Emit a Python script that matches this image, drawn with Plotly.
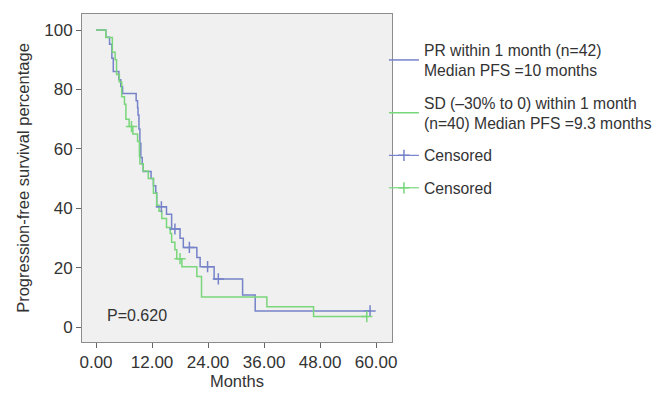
import plotly.graph_objects as go

# ---- data ----
pr_time = [0, 2.1, 2.9, 3.4, 3.7, 4.9, 5.3, 5.7, 8.6, 8.9, 9.0, 9.2, 9.4, 9.6, 9.9, 10.1,
           11.8, 12.3, 12.8, 13.0, 15.1, 16.2, 18.0, 18.7, 21.6, 22.3, 25.3, 31.4, 34.1, 58.7]
pr_surv = [100, 97.6, 95.2, 90.5, 86.0, 83.3, 81.0, 78.6, 76.2, 73.8, 71.4, 66.7, 61.9, 57.1, 54.8, 52.4,
           50.0, 47.6, 45.2, 40.5, 38.0, 33.0, 29.9, 26.8, 23.4, 20.3, 16.2, 10.8, 5.4, 5.4]
pr_cens_time = [14.0, 16.9, 20.0, 23.9, 26.2, 58.7]
pr_cens_surv = [40.5, 33.0, 26.8, 20.3, 16.2, 5.4]

sd_time = [0, 2.1, 3.5, 4.1, 4.4, 5.0, 5.5, 6.1, 6.4, 7.1, 7.9, 8.9, 9.3, 9.4, 10.1, 11.2,
           12.3, 13.0, 13.5, 14.1, 15.1, 15.9, 16.2, 16.9, 17.3, 18.4, 21.6, 22.6, 36.6, 46.6, 58.0]
sd_surv = [100, 97.5, 92.5, 90.0, 85.0, 82.5, 77.5, 75.0, 70.0, 67.5, 65.0, 62.5, 57.5, 55.0, 52.5, 50.0,
           45.0, 41.0, 39.0, 36.5, 33.5, 31.5, 28.5, 26.0, 23.0, 20.3, 17.0, 10.1, 6.8, 3.5, 3.5]
sd_cens_time = [7.6, 18.0, 58.0]
sd_cens_surv = [67.5, 23.0, 3.5]

x_ticks = [0, 12, 24, 36, 48, 60]
x_tick_labels = ["0.00", "12.00", "24.00", "36.00", "48.00", "60.00"]
y_ticks = [0, 20, 40, 60, 80, 100]

names = ["PR within 1 month (n=42)<br>Median PFS =10 months",
         "SD (\u201330% to 0) within 1 month<br>(n=40) Median PFS =9.3 months",
         "Censored", "Censored"]

BLUE = "#7683c9"
GREEN = "#79d67a"
TXT = "#333333"
FONT = "Liberation Sans, Arial, sans-serif"


def gaps(vals):
    out = []
    for v in vals:
        out += [v, None]
    return out


fig = go.Figure()
fig.add_trace(go.Scatter(x=pr_time, y=pr_surv, mode="lines", line=dict(color=BLUE, width=1.5, shape="hv"),
                         name=names[0], legendgroup="a"))
fig.add_trace(go.Scatter(x=sd_time, y=sd_surv, mode="lines", line=dict(color=GREEN, width=1.5, shape="hv"),
                         name=names[1], legendgroup="b"))
fig.add_trace(go.Scatter(x=gaps(pr_cens_time), y=gaps(pr_cens_surv), mode="lines+markers",
                         connectgaps=False, line=dict(color=BLUE, width=1.2),
                         marker=dict(symbol="cross-thin", size=8, line=dict(color=BLUE, width=1.5)),
                         name=names[2], legendgroup="c"))
fig.add_trace(go.Scatter(x=gaps(sd_cens_time), y=gaps(sd_cens_surv), mode="lines+markers",
                         connectgaps=False, line=dict(color=GREEN, width=1.2),
                         marker=dict(symbol="cross-thin", size=8, line=dict(color=GREEN, width=1.5)),
                         name=names[3], legendgroup="d"))

fig.add_annotation(x=1.9, y=4, xref="x", yref="y", text="P=0.620", showarrow=False,
                   xanchor="left", yanchor="middle", font=dict(size=16, color=TXT, family=FONT))

fig.update_layout(
    width=657, height=396,
    margin=dict(l=82, r=265, t=14, b=54, autoexpand=False),
    paper_bgcolor="white", plot_bgcolor="#f0f0f0",
    font=dict(family=FONT, size=16, color=TXT),
    legend=dict(x=0.974, y=0.942, xanchor="left", yanchor="top", bgcolor="rgba(0,0,0,0)",
                font=dict(size=15.7, color=TXT), tracegroupgap=9, itemwidth=30),
    showlegend=True,
)
fig.update_xaxes(range=[-3, 63.4], tickvals=x_ticks, ticktext=x_tick_labels, showgrid=False, zeroline=False,
                 ticks="outside", ticklen=5, tickcolor="#666", showline=True, mirror=True,
                 linecolor="#8c8c8c", linewidth=1, automargin=False, tickfont=dict(size=17),
                 title=dict(text="Months", font=dict(size=16.5, color=TXT), standoff=2))
fig.update_yaxes(range=[-5.05, 105.4], tickvals=y_ticks, showgrid=False, zeroline=False,
                 ticks="outside", ticklen=5, tickcolor="#666", showline=True, mirror=True,
                 linecolor="#8c8c8c", linewidth=1, automargin=False, tickfont=dict(size=17),
                 title=dict(text="Progression-free survival percentage", font=dict(size=16.5, color=TXT),
                            standoff=10))

fig.write_html("out.html", config={"displayModeBar": False},
               post_script="document.body.style.margin='0';document.body.style.padding='0';")
